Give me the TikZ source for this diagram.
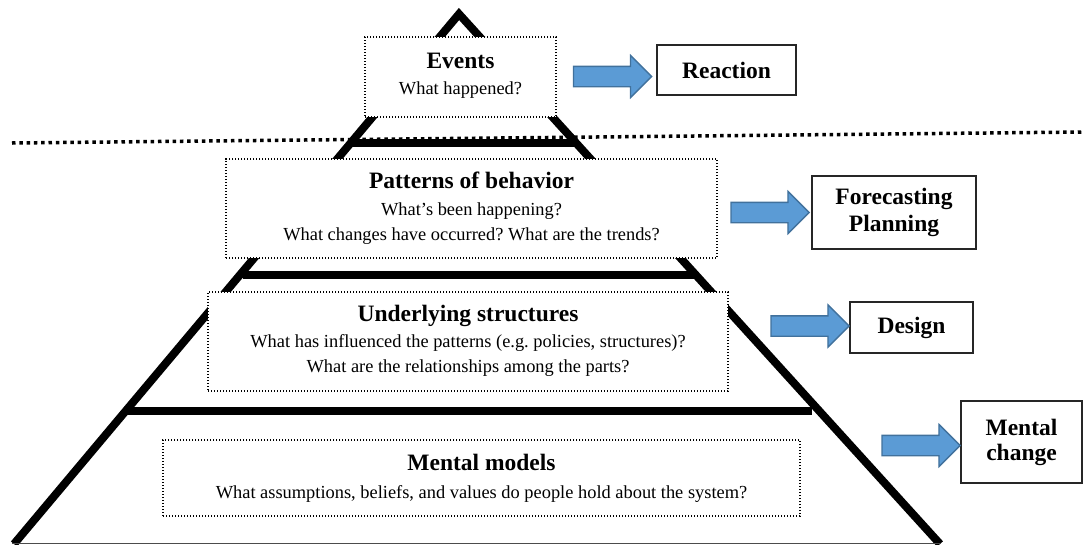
\documentclass[tikz,border=0pt]{standalone}
\usepackage{fontspec}
\setmainfont{Liberation Serif}
\usetikzlibrary{shapes.arrows}
\frenchspacing
\definecolor{arrowfill}{HTML}{5B9BD5}
\definecolor{arrowline}{HTML}{41719C}
\newcommand\titlef{\fontsize{23.5}{27}\selectfont\bfseries}
\newcommand\bodyf{\fontsize{18.4}{25}\selectfont}
\tikzset{
  pyr/.style={line width=8pt, black},
  pyrh/.style={line width=8.5pt, black},
  qbox/.style={draw, dash pattern=on 1.2pt off 1.8pt, line width=1.2pt, fill=white, inner sep=0pt},
  abox/.style={draw=black!85, line width=1.3pt, fill=white, align=center, font=\titlef, inner sep=0pt},
  barrow/.style={single arrow, draw=arrowline, fill=arrowfill, line width=1.3pt,
    minimum height=78pt, minimum width=41pt, single arrow head extend=11pt,
    inner xsep=0pt, inner ysep=9.5pt},
  ttl/.style={anchor=base, font=\titlef, inner sep=0pt},
  bdy/.style={anchor=base, font=\bodyf, inner sep=0pt},
  sep/.style={line width=3.5pt, dash pattern=on 3.5pt off 3.8pt}
}
\begin{document}
\begin{tikzpicture}[x=1pt,y=-1pt]
\useasboundingbox (0,0) rectangle (1083,544);
% separator
\coordinate (sL) at (12,143);
\coordinate (sR) at (1083,132);
\draw[sep] (sL) -- (sR);
% pyramid
\coordinate (apex) at (459,14);
\coordinate (bl) at (14,544);
\coordinate (br) at (940,544);
\draw[pyr, line join=miter] (bl) -- (apex) -- (br);
\coordinate (h1l) at (352,143); \coordinate (h1r) at (575,143);
\coordinate (h2l) at (243,275); \coordinate (h2r) at (695,275);
\coordinate (h3l) at (125,411); \coordinate (h3r) at (812,411);
\draw[pyrh] (h1l) -- (h1r);
\draw[pyrh] (h2l) -- (h2r);
\draw[pyrh] (h3l) -- (h3r);
\coordinate (b0l) at (12,543); \coordinate (b0r) at (940,543);
\draw[line width=1pt, black!70] (b0l) -- (b0r);
% dotted boxes
\node[qbox, minimum width=191pt, minimum height=80pt] (ev) at (460.5,77) {};
\node[qbox, minimum width=491pt, minimum height=99pt] (pat) at (471.5,208.5) {};
\node[qbox, minimum width=520pt, minimum height=99pt] (und) at (468,341.5) {};
\node[qbox, minimum width=637pt, minimum height=76pt] (men) at (481.5,478) {};
% texts
\node[ttl] (evT) at (460.5,68) {Events};
\node[bdy] (evB) at (460.5,94) {What happened?};
\node[ttl] (patT) at (471.5,188) {Patterns of behavior};
\node[bdy] (patB1) at (471.5,215) {What’s been happening?};
\node[bdy] (patB2) at (471.5,240) {What changes have occurred? What are the trends?};
\node[ttl] (undT) at (468,321) {Underlying structures};
\node[bdy] (undB1) at (468,347) {What has influenced the patterns (e.g. policies, structures)?};
\node[bdy] (undB2) at (468,372) {What are the relationships among the parts?};
\node[ttl] (menT) at (481.5,470) {Mental models};
\node[bdy] (menB) at (481.5,498) {What assumptions, beliefs, and values do people hold about the system?};
% right boxes
\node[abox, minimum width=139pt, minimum height=50pt] (rea) at (726.5,70) {Reaction};
\node[abox, minimum width=164pt, minimum height=73pt] (fore) at (894,212.5) {Forecasting\\Planning};
\node[abox, minimum width=123pt, minimum height=51pt] (des) at (911.5,327.5) {Design};
\node[abox, minimum width=121pt, minimum height=82pt, font=\fontsize{23.5}{25}\selectfont\bfseries] (mch) at (1021.5,442) {Mental\\change};
% block arrows
\node[barrow] (a1) at (607.5,76.5) {};
\node[barrow] (a2) at (765,212.5) {};
\node[barrow] (a3) at (805,326) {};
\node[barrow] (a4) at (916,445.5) {};
\end{tikzpicture}
\end{document}
